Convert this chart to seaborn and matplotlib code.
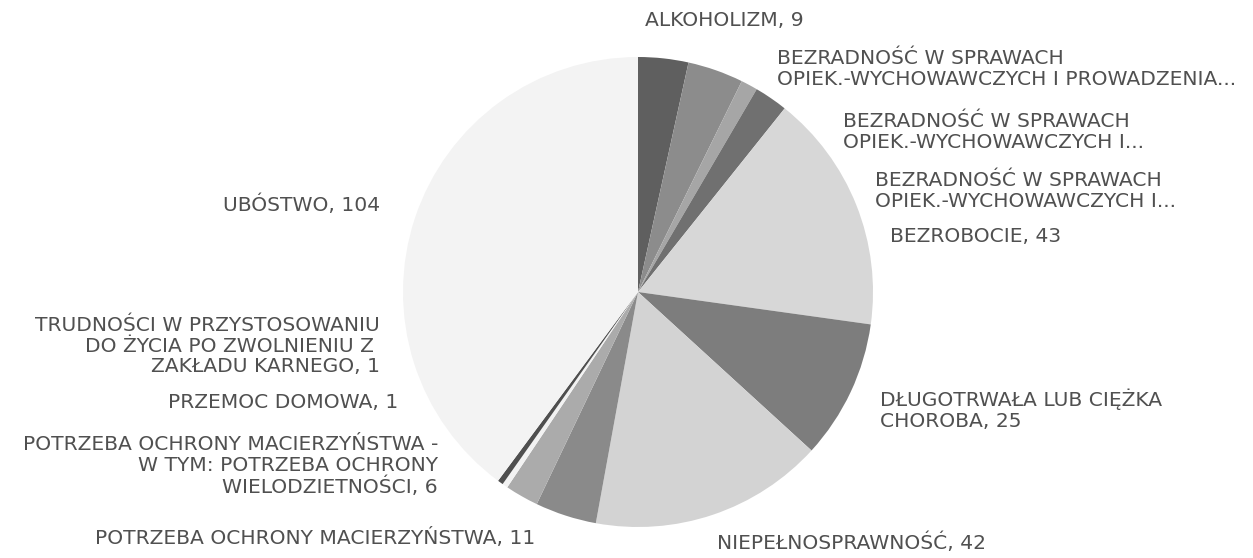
import matplotlib
matplotlib.use('Agg')
import matplotlib.pyplot as plt
import seaborn as sns

categories = [
    'ALKOHOLIZM, 9',
    'BEZRADNOŚĆ W SPRAWACH\nOPIEK.-WYCHOWAWCZYCH I PROWADZENIA...',
    'BEZRADNOŚĆ W SPRAWACH\nOPIEK.-WYCHOWAWCZYCH I...',
    'BEZRADNOŚĆ W SPRAWACH\nOPIEK.-WYCHOWAWCZYCH I...',
    'BEZROBOCIE, 43',
    'DŁUGOTRWAŁA LUB CIĘŻKA\nCHOROBA, 25',
    'NIEPEŁNOSPRAWNOŚĆ, 42',
    'POTRZEBA OCHRONY MACIERZYŃSTWA, 11',
    'POTRZEBA OCHRONY MACIERZYŃSTWA -\nW TYM: POTRZEBA OCHRONY\nWIELODZIETNOŚCI, 6',
    'PRZEMOC DOMOWA, 1',
    'TRUDNOŚCI W PRZYSTOSOWANIU\nDO ŻYCIA PO ZWOLNIENIU Z \nZAKŁADU KARNEGO, 1',
    'UBÓSTWO, 104',
]
# the three "bezradność" values are cut off in the labels
values = [9, 10, 3, 6, 43, 25, 42, 11, 6, 1, 1, 104]

slice_colors = ['#5f5f5f', '#8c8c8c', '#a6a6a6', '#707070', '#d7d7d7', '#7d7d7d',
                '#d3d3d3', '#8a8a8a', '#ababab', '#f2f2f2', '#4f4f4f', '#f3f3f3']

# label anchor (pixel x, pixel y, horizontal alignment) for each slice
label_pos = [
    (645, 20, 'left'),
    (777, 69, 'left'),
    (843, 132, 'left'),
    (875, 191, 'left'),
    (890, 236, 'left'),
    (880, 410, 'left'),
    (717, 543, 'left'),
    (535, 538, 'right'),
    (438, 466, 'right'),
    (398, 402, 'right'),
    (380, 346, 'right'),
    (380, 205, 'right'),
]

sns.set_style('white')
plt.rcParams['font.family'] = ['DejaVu Sans']

W, H = 1253, 558
fig = plt.figure(figsize=(W / 100, H / 100), dpi=100)
ax = fig.add_axes([0, 0, 1, 1])

ax.pie(values, colors=slice_colors, startangle=90, counterclock=False,
       center=(638, H - 292), radius=235,
       wedgeprops={'linewidth': 0})

for text, (px, py, ha) in zip(categories, label_pos):
    ax.text(px, H - py, text, ha=ha, va='center', multialignment=ha,
            fontsize=14.6, color='#505050', linespacing=1.12)

ax.set_xlim(0, W)
ax.set_ylim(0, H)
ax.set_aspect('equal')
ax.axis('off')

fig.savefig('out.png', dpi=100, facecolor='white')
